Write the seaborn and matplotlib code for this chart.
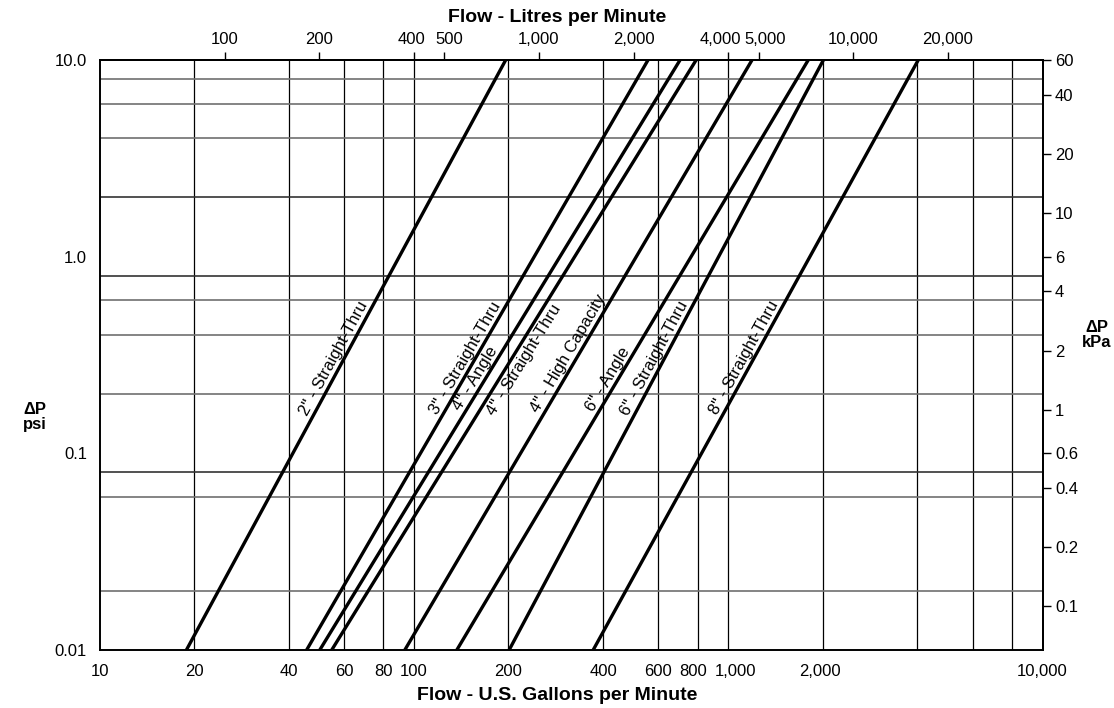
import numpy as np
import pandas as pd
import matplotlib
matplotlib.use("Agg")
import matplotlib.pyplot as plt
import matplotlib.ticker as mticker
from matplotlib.transforms import offset_copy, ScaledTranslation
import seaborn as sns

# ---------------- data ----------------
valves = ['2" - Straight-Thru', '3" - Straight-Thru', '4" - Angle', '4" - Straight-Thru',
          '4" - High Capacity', '6" - Angle', '6" - Straight-Thru', '8" - Straight-Thru']
flow_at_low_dp = [18.9, 45.6, 50.2, 54.8, 93.6, 137, 201, 372]       # US GPM at 0.01 psi
flow_at_high_dp = [196, 556, 703, 791, 1191, 1798, 2009, 4025]       # US GPM at 10 psi
dp_ends = [0.01, 10.0]                                              # psi
label_dp = [0.29, 0.29, 0.228, 0.318, 0.305, 0.225, 0.29, 0.29]    # where labels sit
label_side = [1, 1, 1, -1, 1, 1, 1, 1]                              # 1: left of line, -1: right

gpm_ticks = [10, 20, 40, 60, 80, 100, 200, 400, 600, 800, 1000, 2000, 4000, 6000, 8000, 10000]
gpm_labels = ['10', '20', '40', '60', '80', '100', '200', '400', '600', '800',
              '1,000', '2,000', '', '', '', '10,000']
psi_ticks = [0.01, 0.1, 1.0, 10.0]
psi_labels = ['0.01', '0.1', '1.0', '10.0']
psi_grid = [0.02, 0.06, 0.08, 0.2, 0.4, 0.6, 0.8, 2, 4, 6, 8]
psi_grid_dark = [0.08, 0.8, 2]
lpm_ticks = [100, 200, 400, 500, 1000, 2000, 4000, 5000, 10000, 20000]
kpa_ticks = [0.1, 0.2, 0.4, 0.6, 1, 2, 4, 6, 10, 20, 40, 60]
LPM_PER_GPM = 4.0   # scale factor as drawn on the top axis
KPA_PER_PSI = 6.0   # scale factor as drawn on the right axis

# small sideways nudges (pixels) of crowded tick labels, as in the reference
bottom_label_nudge = {800: -5, 1000: 7, 2000: -3}
top_label_nudge = {400: -2, 500: 5, 4000: -8, 5000: 7}

# ---------------- build long-form table ----------------
rows = []
for v, f0, f1 in zip(valves, flow_at_low_dp, flow_at_high_dp):
    rows.append({"valve": v, "flow": f0, "dp": dp_ends[0]})
    rows.append({"valve": v, "flow": f1, "dp": dp_ends[1]})
df = pd.DataFrame(rows)

sns.set_style("white")
plt.rcParams['font.family'] = ['Liberation Sans', 'DejaVu Sans']
plt.rcParams.update({"text.color": "black", "axes.labelcolor": "black",
                     "xtick.color": "black", "ytick.color": "black",
                     "axes.edgecolor": "black"})

W, H = 1114, 708
fig = plt.figure(figsize=(W / 100, H / 100), dpi=100)
left, right, top, bottom = 99.5, 1042.5, 60, 650
ax = fig.add_axes([left / W, 1 - bottom / H, (right - left) / W, (bottom - top) / H])

sns.lineplot(data=df, x="flow", y="dp", hue="valve", hue_order=valves,
             palette=["black"] * len(valves), estimator=None, sort=False,
             linewidth=2.4, legend=False, ax=ax, zorder=3)

ax.set_xscale("log")
ax.set_yscale("log")
ax.set_xlim(gpm_ticks[0], gpm_ticks[-1])
ax.set_ylim(psi_ticks[0], psi_ticks[-1])
ax.set_xlabel("")
ax.set_ylabel("")

# grid
for g in gpm_ticks[1:-1]:
    ax.axvline(g, color="black", lw=0.9, zorder=1)
for p in psi_grid:
    ax.axhline(p, color="#333333" if p in psi_grid_dark else "#707070", lw=1.2, zorder=1)

# ticks
ax.set_xticks(gpm_ticks, labels=gpm_labels)
ax.set_yticks(psi_ticks, labels=psi_labels)
ax.xaxis.set_minor_locator(mticker.NullLocator())
ax.yaxis.set_minor_locator(mticker.NullLocator())
ax.tick_params(axis="both", which="major", direction="out", length=6, width=1,
               labelsize=12, pad=3, color="black", labelcolor="black")
ax.tick_params(axis="x", pad=4)
for s in ax.spines.values():
    s.set_linewidth(1.4)
    s.set_color("black")

secx = ax.secondary_xaxis("top", functions=(lambda g: g * LPM_PER_GPM, lambda l: l / LPM_PER_GPM))
secx.set_xticks(lpm_ticks, labels=[f"{v:,}" for v in lpm_ticks])
secx.xaxis.set_minor_locator(mticker.NullLocator())
secx.tick_params(direction="out", length=6, width=1, labelsize=12, pad=3,
                 color="black", labelcolor="black")
secx.spines["top"].set_linewidth(1.4)

secy = ax.secondary_yaxis("right", functions=(lambda p: p * KPA_PER_PSI, lambda k: k / KPA_PER_PSI))
secy.set_yticks(kpa_ticks, labels=[f"{v:g}" for v in kpa_ticks])
secy.yaxis.set_minor_locator(mticker.NullLocator())
secy.tick_params(direction="out", length=6, width=1, labelsize=12, pad=3,
                 color="black", labelcolor="black")
secy.spines["right"].set_linewidth(1.4)

# axis titles
fig.text(557 / W, 1 - 17 / H, "Flow - Litres per Minute", ha="center", va="center",
         fontsize=14, fontweight="bold", color="black")
fig.text(557 / W, 1 - 696 / H, "Flow - U.S. Gallons per Minute", ha="center", va="center",
         fontsize=14, fontweight="bold", color="black")
fig.text(35 / W, 1 - 417 / H, "\u0394P\npsi", ha="center", va="center",
         fontsize=12, fontweight="bold", linespacing=1.0, color="black")
fig.text(1097 / W, 1 - 335 / H, "\u0394P\nkPa", ha="center", va="center",
         fontsize=12, fontweight="bold", linespacing=1.0, color="black")

# line labels, parallel to each line
lg0, lg1 = np.log10(dp_ends[0]), np.log10(dp_ends[1])
for v, f0, f1, ldp, side in zip(valves, flow_at_low_dp, flow_at_high_dp, label_dp, label_side):
    t = (np.log10(ldp) - lg0) / (lg1 - lg0)
    xl = 10 ** (np.log10(f0) + t * (np.log10(f1) - np.log10(f0)))
    p0 = ax.transData.transform((f0, dp_ends[0]))
    p1 = ax.transData.transform((f1, dp_ends[1]))
    ang = np.degrees(np.arctan2(p1[1] - p0[1], p1[0] - p0[0]))
    d = 4.5 if side > 0 else 3.5
    tr = offset_copy(ax.transData, fig=fig, x=-np.sin(np.radians(ang)) * d * side,
                     y=np.cos(np.radians(ang)) * d * side, units="dots")
    ax.text(xl, ldp, v, rotation=ang, rotation_mode="anchor", ha="center",
            va="baseline" if side > 0 else "top", transform=tr, fontsize=12,
            color="black", zorder=4)

# nudge crowded tick labels sideways
fig.canvas.draw()


def nudge(axis, table):
    for tick in axis.get_major_ticks():
        loc = tick.get_loc()
        for key, dx in table.items():
            if np.isclose(loc, key, rtol=1e-6):
                for lab in (tick.label1, tick.label2):
                    lab.set_transform(lab.get_transform()
                                      + ScaledTranslation(dx / 100, 0, fig.dpi_scale_trans))


nudge(ax.xaxis, bottom_label_nudge)
nudge(secx.xaxis, top_label_nudge)

fig.savefig("out.png", dpi=100)
